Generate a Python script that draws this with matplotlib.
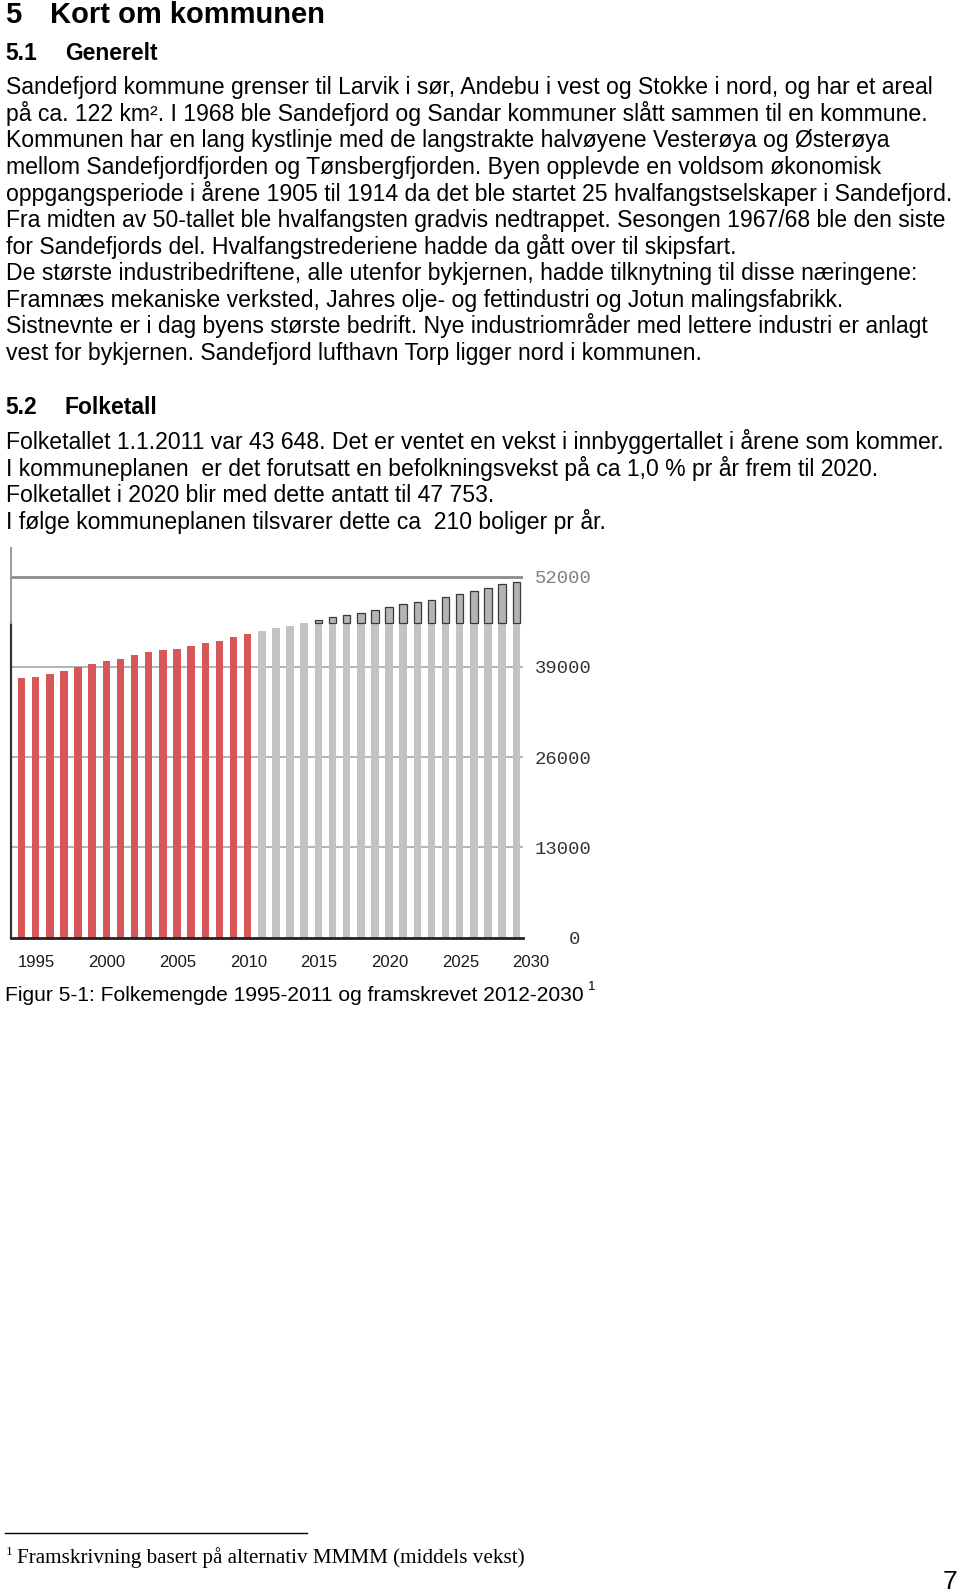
import matplotlib.pyplot as plt
from matplotlib.lines import Line2D
import numpy as np

# side 960x1592 px
W, H = 960, 1592

# folkemengde 1995-2011 (registrert) og 2012-2030 (framskrevet)
years = np.arange(1995, 2031)
population = np.array([37350, 37540, 37920, 38350, 39020, 39410, 39840, 40080, 40700,
                       41140, 41380, 41620, 42000, 42430, 42670, 43300, 43680,
                       44210, 44570, 44900, 45290, 45720, 46150, 46440, 46810, 47200,
                       47630, 48070, 48310, 48690, 49120, 49550, 49940, 50370, 50900, 51240])
last_observed = 2011
cap_base = 45400          # der de mørke rammene på prognosestolpene begynner
y_ticks = [0, 13000, 26000, 39000, 52000]
y_ticklabels = ['   0', '13000', '26000', '39000', '52000']
x_label_years = [1995, 2000, 2005, 2010, 2015, 2020, 2025, 2030]

heading = ('5', 'Kort om kommunen')
sec1 = ('5.1', 'Generelt')
sec1_lines = [
    'Sandefjord kommune grenser til Larvik i sør, Andebu i vest og Stokke i nord, og har et areal',
    'på ca. 122 km². I 1968 ble Sandefjord og Sandar kommuner slått sammen til en kommune.',
    'Kommunen har en lang kystlinje med de langstrakte halvøyene Vesterøya og Østerøya',
    'mellom Sandefjordfjorden og Tønsbergfjorden. Byen opplevde en voldsom økonomisk',
    'oppgangsperiode i årene 1905 til 1914 da det ble startet 25 hvalfangstselskaper i Sandefjord.',
    'Fra midten av 50-tallet ble hvalfangsten gradvis nedtrappet. Sesongen 1967/68 ble den siste',
    'for Sandefjords del. Hvalfangstrederiene hadde da gått over til skipsfart.',
    'De største industribedriftene, alle utenfor bykjernen, hadde tilknytning til disse næringene:',
    'Framnæs mekaniske verksted, Jahres olje- og fettindustri og Jotun malingsfabrikk.',
    'Sistnevnte er i dag byens største bedrift. Nye industriområder med lettere industri er anlagt',
    'vest for bykjernen. Sandefjord lufthavn Torp ligger nord i kommunen.',
]
sec2 = ('5.2', 'Folketall')
sec2_lines = [
    'Folketallet 1.1.2011 var 43 648. Det er ventet en vekst i innbyggertallet i årene som kommer.',
    'I kommuneplanen  er det forutsatt en befolkningsvekst på ca 1,0 % pr år frem til 2020.',
    'Folketallet i 2020 blir med dette antatt til 47 753.',
    'I følge kommuneplanen tilsvarer dette ca  210 boliger pr år.',
]
caption = 'Figur 5-1: Folkemengde 1995-2011 og framskrevet 2012-2030'
footnote = 'Framskrivning basert på alternativ MMMM (middels vekst)'

plt.rcParams['font.family'] = ['Liberation Sans', 'DejaVu Sans']

fig = plt.figure(figsize=(W / 100, H / 100), dpi=100)
fig.patch.set_facecolor('white')


def put(x, y, s, **kw):
    # x, y i piksler fra øvre venstre hjørne, y = grunnlinje
    fig.text(x / W, 1 - y / H, s, va='baseline', **kw)


# overskrifter og brødtekst
body = 16.55
put(5, 23, heading[0], fontsize=21, fontweight='bold')
put(50, 23, heading[1], fontsize=21, fontweight='bold')
put(5, 60, sec1[0], fontsize=16.5, fontweight='bold')
put(65, 60, sec1[1], fontsize=16.5, fontweight='bold')
for i, line in enumerate(sec1_lines):
    put(6, 94.3 + i * 26.55, line, fontsize=body)
put(5, 414.3, sec2[0], fontsize=16.5, fontweight='bold')
put(65, 414.3, sec2[1], fontsize=16.5, fontweight='bold')
for i, line in enumerate(sec2_lines):
    put(6, 449.3 + i * 26.5, line, fontsize=body)

# diagram
ax = fig.add_axes([11 / W, 1 - 937.7 / H, (523 - 11) / W, (937.7 - 548) / H])
bar_w = 0.53
red, grey = '#d65757', '#c3c3c3'
colors = [red if y <= last_observed else grey for y in years]
ax.bar(years, population, width=bar_w, color=colors, zorder=2)

proj = (years > last_observed) & (population > cap_base)
ax.bar(years[proj], population[proj] - cap_base, bottom=cap_base, width=bar_w,
       facecolor='#b4b4b4', edgecolor='#3a3a3a', linewidth=0.9, zorder=3)

ax.set_xlim(1995 - 0.743, 2030 + 0.474)
ax.set_ylim(0, 52000 * (937.7 - 548) / 361)

for v in y_ticks[1:-1]:
    ax.axhline(v, color='#a8a8a8', lw=1.2, zorder=1)
ax.axhline(y_ticks[-1], color='#8c8c8c', lw=2, zorder=1)

for s in ['top', 'right']:
    ax.spines[s].set_visible(False)
ax.spines['bottom'].set_color('#222222')
ax.spines['bottom'].set_linewidth(2)
ax.spines['bottom'].set_zorder(4)
ax.spines['left'].set_color('#333333')
ax.spines['left'].set_linewidth(1.6)
ax.spines['left'].set_bounds(0, cap_base)
ax.plot([ax.get_xlim()[0]] * 2, [cap_base, ax.get_ylim()[1]], color='#999999',
        lw=1.4, clip_on=False, zorder=4)

ax.yaxis.tick_right()
ax.set_yticks(y_ticks)
ax.set_yticklabels(y_ticklabels, family='Liberation Mono', fontsize=13.6, color='#333333')
ax.get_yticklabels()[-1].set_color('#808080')
ax.tick_params(axis='y', length=0, pad=8.5)

ax.set_xticks(np.array(x_label_years) - bar_w / 2)
ax.set_xticklabels([str(y) for y in x_label_years], family='Liberation Sans',
                   fontsize=12, color='#1a1a1a', ha='left')
ax.tick_params(axis='x', length=0, pad=12.5)

# figurtekst
put(5, 1000.5, caption, fontsize=15.1)
put(588, 990, '1', fontsize=9.5)

# fotnote
fig.add_artist(Line2D([5 / W, 307 / W], [1 - 1533 / H] * 2, color='black', lw=1))
put(6, 1555, '1', fontsize=9.5, family='Liberation Serif')
put(17, 1562.8, footnote, fontsize=15.2, family='Liberation Serif')
put(943, 1589, '7', fontsize=19)

fig.savefig('out.png', dpi=100)
